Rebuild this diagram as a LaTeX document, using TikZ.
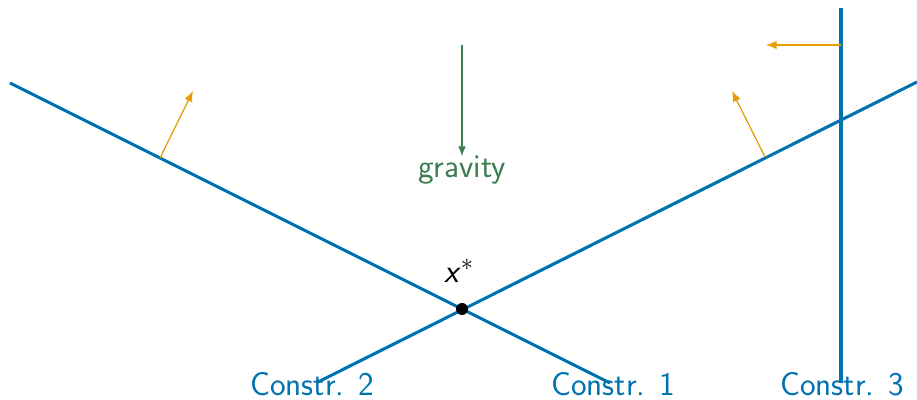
\documentclass[tikz,border=0pt]{standalone}
\usepackage{tikz}
\usetikzlibrary{arrows.meta}
\definecolor{cblue}{RGB}{0,114,178}
\definecolor{corange}{RGB}{230,159,0}
\definecolor{cgreen}{RGB}{62,125,82}

\begin{document}
\begin{tikzpicture}[x=0.025cm,y=-0.025cm,
    constr/.style={cblue,line width=2.2pt},
    push/.style={-{Latex[length=7.5pt,width=6pt]},corange,line width=0.9pt},
    lbl/.style={font=\sffamily\fontsize{23.6}{28}\selectfont,inner sep=0pt,anchor=base},
    dot/.style={circle,fill=black,inner sep=0pt,minimum size=0.3cm}]
    \useasboundingbox (0,0) rectangle (917,400);
    % constraint lines
    \coordinate (c1a) at (10,83);
    \coordinate (c1b) at (610,383);
    \coordinate (c2a) at (318,382);
    \coordinate (c2b) at (917,82);
    \coordinate (c3a) at (841,8);
    \coordinate (c3b) at (841,383);
    \draw[constr] (c1a)--(c1b);
    \draw[constr] (c2a)--(c2b);
    \draw[constr] (c3a)--(c3b);
    \node[lbl,cblue] (L1) at (613,396) {Constr. 1};
    \node[lbl,cblue] (L2) at (312,396) {Constr. 2};
    \node[lbl,cblue] (L3) at (842,396) {Constr. 3};
    % optimum
    \node[dot] (X) at (462,309) {};
    \node[lbl] (Xs) at (459,283) {\textit{x}$^{*}$};
    % normals
    \coordinate (p1) at (160,158);
    \coordinate (q1) at (193,91);
    \coordinate (p2) at (765,157);
    \coordinate (q2) at (732,91);
    \coordinate (p3) at (841,45);
    \coordinate (q3) at (766,45);
    \draw[push] (p1)--(q1);
    \draw[push] (p2)--(q2);
    \draw[push] (p3)--(q3);
    % gravity
    \coordinate (g0) at (462,45);
    \node[lbl,cgreen] (G) at (462,178) {gravity};
    \draw[-{Latex[length=7pt,width=5.5pt]},cgreen,line width=0.8pt] (g0)--(G.north);

\end{tikzpicture}
\end{document}
